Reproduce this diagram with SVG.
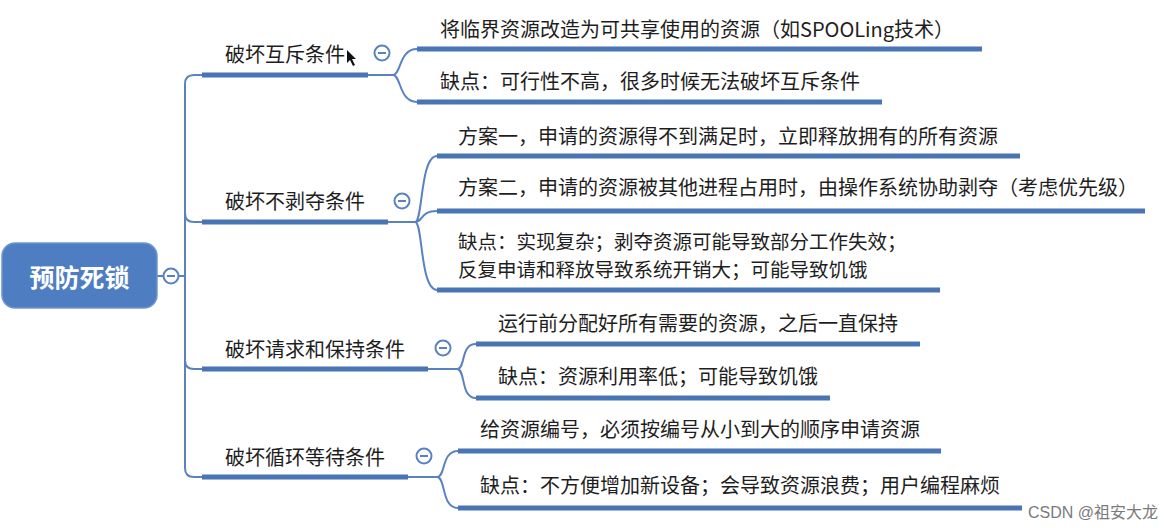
<svg xmlns="http://www.w3.org/2000/svg" width="1174" height="528" viewBox="0 0 1174 528">
<style>
.t{font-family:"Noto Sans CJK SC","Noto Sans",sans-serif;font-size:20px;fill:#1e1e1e}
.t2{font-family:"Noto Sans CJK SC","Noto Sans",sans-serif;font-size:19.5px;fill:#1e1e1e}
.root{font-family:"Noto Sans CJK SC","Noto Sans",sans-serif;font-size:25px;font-weight:bold;fill:#ffffff}
.thick{stroke:#4a75b5;stroke-width:5;fill:none;stroke-linecap:butt}
.thin{stroke:#5b82c0;stroke-width:2;fill:none}
.tog{fill:#ffffff;stroke:#5b82c0;stroke-width:2}
.minus{stroke:#5b82c0;stroke-width:2}
.wm{font-family:"Liberation Sans","Noto Sans CJK SC",sans-serif;font-size:16px;fill:#7a7a7a}
</style>
<rect width="1174" height="528" fill="#ffffff"/>
<g id="connectors">
<path class="thin" d="M157 276 H185"/>
<path class="thin" d="M185 276 V84 Q185 75 194 75 H202"/>
<path class="thin" d="M185 276 V213 Q185 222 194 222 H202"/>
<path class="thin" d="M185 276 V360 Q185 369 194 369 H202"/>
<path class="thin" d="M185 276 V468 Q185 477 194 477 H202"/>
<path class="thin" d="M368 75 H393 C401 75 399 49 417 49 M393 75 C401 75 399 102 417 102"/>
<path class="thin" d="M388 222 H415 C423 222 420 156 437 156 M415 222 C423 222 420 211 437 211 M415 222 C423 222 420 290 437 290"/>
<path class="thin" d="M428 369 H457 C466 369 460 344 476 344 M457 369 C466 369 460 398 476 398"/>
<path class="thin" d="M408 477 H437 C446 477 441 451 458 451 M437 477 C446 477 441 508 458 508"/>
</g>
<g id="root">
<rect x="2" y="243" width="155" height="65" rx="13" fill="#4e7ec1" stroke="#6f96d0" stroke-width="1.5"/>
<text class="root" x="79.5" y="287" text-anchor="middle">预防死锁</text>
<circle class="tog" cx="171" cy="276" r="7.5"/><path class="minus" d="M167 276 H175"/>
</g>
<g id="b1">
<text class="t" x="225" y="62">破坏互斥条件</text>
<path class="thick" d="M202 75 H368"/>
<circle class="tog" cx="382" cy="53" r="7.5"/><path class="minus" d="M378 53 H386"/>
<path d="M347 50 L347 63 L350 60 L353 66 L355 65 L352 59 L356 59 Z" fill="#111"/>
</g>
<g id="b1c1"><text class="t" x="440" y="37">将临界资源改造为可共享使用的资源（如SPOOLing技术）</text><path class="thick" d="M417 49 H982"/></g>
<g id="b1c2"><text class="t" x="440" y="89">缺点：可行性不高，很多时候无法破坏互斥条件</text><path class="thick" d="M417 102 H882"/></g>
<g id="b2">
<text class="t" x="225" y="209">破坏不剥夺条件</text>
<path class="thick" d="M202 222 H388"/>
<circle class="tog" cx="402" cy="201" r="7.5"/><path class="minus" d="M398 201 H406"/>
</g>
<g id="b2c1"><text class="t" x="458" y="144">方案一，申请的资源得不到满足时，立即释放拥有的所有资源</text><path class="thick" d="M437 156 H1020"/></g>
<g id="b2c2"><text class="t" x="458" y="195">方案二，申请的资源被其他进程占用时，由操作系统协助剥夺（考虑优先级）</text><path class="thick" d="M437 211 H1145"/></g>
<g id="b2c3"><text class="t2" x="458" y="249">缺点：实现复杂；剥夺资源可能导致部分工作失效；</text><text class="t2" x="458" y="277">反复申请和释放导致系统开销大；可能导致饥饿</text><path class="thick" d="M437 290 H940"/></g>
<g id="b3">
<text class="t" x="225" y="357">破坏请求和保持条件</text>
<path class="thick" d="M202 369 H428"/>
<circle class="tog" cx="443" cy="348" r="7.5"/><path class="minus" d="M439 348 H447"/>
</g>
<g id="b3c1"><text class="t" x="498" y="331">运行前分配好所有需要的资源，之后一直保持</text><path class="thick" d="M476 344 H920"/></g>
<g id="b3c2"><text class="t" x="498" y="384">缺点：资源利用率低；可能导致饥饿</text><path class="thick" d="M476 398 H830"/></g>
<g id="b4">
<text class="t" x="225" y="465">破坏循环等待条件</text>
<path class="thick" d="M202 477 H408"/>
<circle class="tog" cx="424" cy="456" r="7.5"/><path class="minus" d="M420 456 H428"/>
</g>
<g id="b4c1"><text class="t" x="480" y="437">给资源编号，必须按编号从小到大的顺序申请资源</text><path class="thick" d="M458 451 H941"/></g>
<g id="b4c2"><text class="t" x="480" y="493">缺点：不方便增加新设备；会导致资源浪费；用户编程麻烦</text><path class="thick" d="M458 508 H1022"/></g>
<text class="wm" x="1028" y="518">CSDN @祖安大龙</text>
</svg>
